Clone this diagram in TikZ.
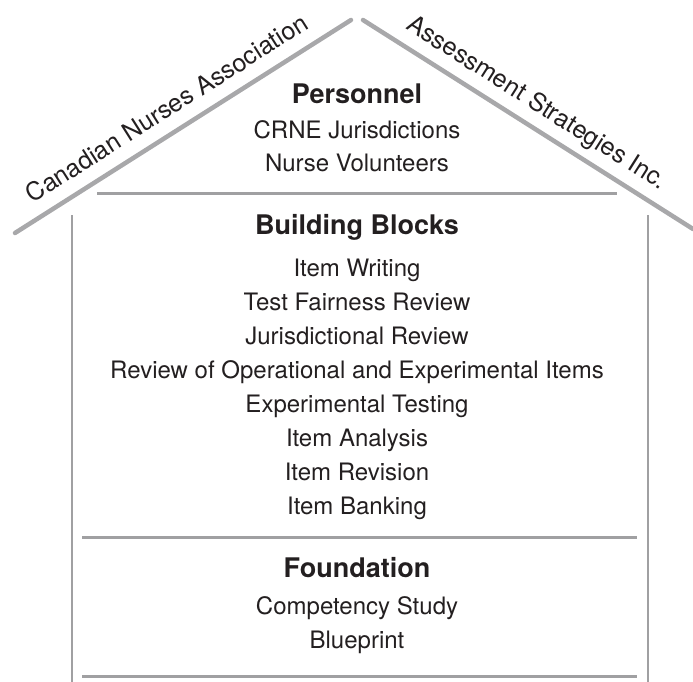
\documentclass[tikz,border=0pt]{standalone}
\usepackage{fontspec}
\setmainfont{TeX Gyre Heros}
\usetikzlibrary{positioning}
\definecolor{roofgray}{RGB}{168,168,170}
\definecolor{linegray}{RGB}{160,160,162}
\definecolor{inkblack}{RGB}{35,31,32}

\begin{document}
\begin{tikzpicture}[
   x=1pt, y=-1pt,
   every node/.style   = {text=inkblack, inner sep=0},
   node distance       = 11.5pt,
        roofLine/.style = {line width=4.5, draw=roofgray, line cap=round},
        wallLine/.style = {line width=2, draw=linegray},
        floorLine/.style = {line width=2.2, draw=linegray},
        heading/.style  = {font=\fontsize{27}{30}\selectfont\bfseries, text height=19, text depth=0, anchor=base},
        item/.style     = {font=\fontsize{24}{28}\selectfont, text height=17, text depth=5},
        roofLabel/.style = {font=\fontsize{25}{28}\selectfont, text depth=0, sloped, pos=0.49, above=13pt}
]
\useasboundingbox (0,0) rectangle (693,682);

% roof
\coordinate (eaveL) at (15,233);
\coordinate (peakL) at (351,20);
\coordinate (peakR) at (363,20);
\coordinate (eaveR) at (693,229);
\draw[roofLine] (eaveL) -- (peakL) node[roofLabel] (cna) {Canadian Nurses Association};
\draw[roofLine] (peakR) -- (eaveR) node[roofLabel] (asi) {Assessment Strategies Inc.};

% walls
\coordinate (wallLtop) at (72,215);
\coordinate (wallLbot) at (72,684);
\coordinate (wallRtop) at (648,215);
\coordinate (wallRbot) at (648,684);
\draw[wallLine] (wallLtop) -- (wallLbot);
\draw[wallLine] (wallRtop) -- (wallRbot);

% floors
\coordinate (floorA1) at (97,193.5);
\coordinate (floorA2) at (617,193.5);
\coordinate (floorB1) at (82,537.5);
\coordinate (floorB2) at (637,537.5);
\coordinate (floorC1) at (82,676.5);
\coordinate (floorC2) at (637,676.5);
\draw[floorLine] (floorA1) -- (floorA2);
\draw[floorLine] (floorB1) -- (floorB2);
\draw[floorLine] (floorC1) -- (floorC2);

% personnel
\node[heading] (personnel) at (357,103.5) {Personnel};
\node[item, below=18pt of personnel] (crne) {CRNE Jurisdictions};
\node[item, below=10.5pt of crne] (volunteers) {Nurse Volunteers};

% building blocks
\node[heading] (blocks) at (357,234.5) {Building Blocks};
\node[item, below=25pt of blocks] (writing) {Item Writing};
\node[item, below=of writing] (fairness) {Test Fairness Review};
\node[item, below=of fairness] (jurisdictional) {Jurisdictional Review};
\node[item, below=of jurisdictional] (operational) {Review of Operational and Experimental Items};
\node[item, below=of operational] (testing) {Experimental Testing};
\node[item, below=of testing] (analysis) {Item Analysis};
\node[item, below=of analysis] (revision) {Item Revision};
\node[item, below=of revision] (banking) {Item Banking};

% foundation
\node[heading] (foundation) at (357,577) {Foundation};
\node[item, below=20.5pt of foundation] (competency) {Competency Study};
\node[item, below=of competency] (blueprint) {Blueprint};

\end{tikzpicture}
\end{document}
